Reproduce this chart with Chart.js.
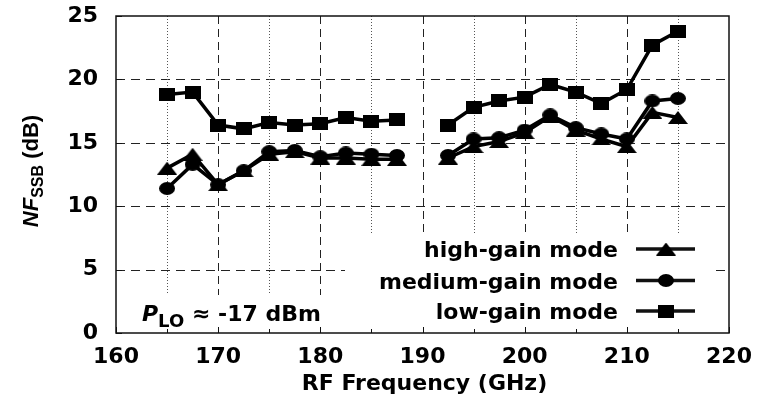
<!DOCTYPE html>
<html>
<head>
<meta charset="utf-8">
<script src="https://cdn.jsdelivr.net/npm/chart.js@4.4.1/dist/chart.umd.min.js"></script>
<style>
  html, body { margin: 0; padding: 0; background: #fff; }
  #wrap { width: 775px; height: 406px; }
</style>
</head>
<body>
<div id="wrap"><canvas id="myChart"></canvas></div>
<script>
// RF frequency (GHz) of each measured point, 190 is the gap between the two bands
const frequencies = [165, 167.5, 170, 172.5, 175, 177.5, 180, 182.5, 185, 187.5, 190,
                     192.5, 195, 197.5, 200, 202.5, 205, 207.5, 210, 212.5, 215];
const highGain   = [13.0, 14.1, 11.7, 12.8, 14.1, 14.3, 13.8, 13.8, 13.7, 13.7, null,
                    13.8, 14.7, 15.1, 15.8, 17.1, 16.0, 15.3, 14.7, 17.4, 17.0];
const mediumGain = [11.4, 13.3, 11.7, 12.8, 14.3, 14.4, 13.9, 14.2, 14.1, 14.0, null,
                    14.0, 15.3, 15.4, 16.0, 17.2, 16.2, 15.7, 15.3, 18.3, 18.5];
const lowGain    = [18.8, 19.0, 16.4, 16.1, 16.6, 16.4, 16.5, 17.0, 16.7, 16.8, null,
                    16.4, 17.8, 18.3, 18.6, 19.6, 19.0, 18.1, 19.2, 22.7, 23.8];
const seriesLabels = ['high-gain mode', 'medium-gain mode', 'low-gain mode'];
const xTicks = [160, 170, 180, 190, 200, 210, 220];
const yTicks = [0, 5, 10, 15, 20, 25];

const FONT = '"DejaVu Sans"';

//marker shapes (a bit wider than tall, like the original figure)
function makeMarker(shape, w, h) {
    const c = document.createElement('canvas');
    c.width = w;
    c.height = h;
    const g = c.getContext('2d');
    g.fillStyle = '#000';
    g.beginPath();
    if (shape === 'triangle') {
        g.moveTo(w / 2, 0);
        g.lineTo(w, h);
        g.lineTo(0, h);
        g.closePath();
    } else if (shape === 'circle') {
        g.ellipse(w / 2, h / 2, w / 2, h / 2, 0, 0, Math.PI * 2);
    } else {
        g.rect(0, 0, w, h);
    }
    g.fill();
    return c;
}
const markers = [makeMarker('triangle', 20, 13), makeMarker('circle', 16, 13), makeMarker('rect', 16, 13)];

function toPoints(values) {
    return frequencies.map((f, i) => ({ x: f, y: values[i] }));
}

function noPadding(s) {
    s.paddingTop = 0;
    s.paddingBottom = 0;
    s.paddingLeft = 0;
    s.paddingRight = 0;
}

//grid, white boxes behind legend and note
const backgroundPlugin = {
    id: 'background',
    beforeDatasetsDraw(chart) {
        const { ctx, chartArea: { left, right, top, bottom }, scales: { x, y } } = chart;
        ctx.save();
        ctx.lineWidth = 1;

        ctx.strokeStyle = '#222';
        ctx.setLineDash([9, 6]);
        yTicks.slice(1, -1).forEach(v => {
            const py = Math.round(y.getPixelForValue(v)) + 0.5;
            ctx.beginPath(); ctx.moveTo(left, py); ctx.lineTo(right, py); ctx.stroke();
        });
        ctx.setLineDash([8, 5]);
        xTicks.slice(1, -1).forEach(v => {
            const px = Math.round(x.getPixelForValue(v)) + 0.5;
            ctx.beginPath(); ctx.moveTo(px, top); ctx.lineTo(px, bottom); ctx.stroke();
        });
        ctx.strokeStyle = '#555';
        ctx.setLineDash([1, 2]);
        xTicks.slice(0, -1).forEach(v => {
            const px = Math.round(x.getPixelForValue(v + 5)) + 0.5;
            ctx.beginPath(); ctx.moveTo(px, top); ctx.lineTo(px, bottom); ctx.stroke();
        });
        ctx.setLineDash([]);

        ctx.fillStyle = '#fff';
        ctx.fillRect(345, 233, 712 - 345, bottom - 233);
        ctx.fillRect(left, 295, 345 - left, bottom - 295);
        ctx.restore();
    },
    afterDatasetsDraw(chart) {
        const { ctx, chartArea: { left, right, top, bottom }, scales: { x, y } } = chart;
        ctx.save();

        //frame and inward ticks
        ctx.strokeStyle = '#111';
        ctx.lineWidth = 1.5;
        ctx.strokeRect(left, top, right - left, bottom - top);
        ctx.lineWidth = 1;
        xTicks.forEach(v => {
            [v, v + 5].forEach((t, k) => {
                if (t > 220) return;
                const px = Math.round(x.getPixelForValue(t)) + 0.5;
                ctx.beginPath(); ctx.moveTo(px, bottom); ctx.lineTo(px, bottom - (k ? 4 : 6)); ctx.stroke();
            });
        });
        yTicks.forEach(v => {
            const py = Math.round(y.getPixelForValue(v)) + 0.5;
            ctx.beginPath(); ctx.moveTo(left, py); ctx.lineTo(left + 6, py); ctx.stroke();
        });

        //legend
        ctx.fillStyle = '#000';
        ctx.font = 'bold 22px ' + FONT;
        ctx.textAlign = 'right';
        ctx.textBaseline = 'alphabetic';
        const rows = [249, 280.5, 311];
        chart.data.datasets.forEach((ds, i) => {
            const cy = rows[i];
            ctx.fillText(ds.label, 618, cy + 8);
            ctx.lineWidth = 3.5;
            ctx.beginPath(); ctx.moveTo(636, cy); ctx.lineTo(695, cy); ctx.stroke();
            const m = ds.pointStyle;
            ctx.drawImage(m, 666 - m.width / 2, cy - m.height / 2);
        });

        //P_LO note
        ctx.textAlign = 'left';
        let nx = 142;
        ctx.font = 'italic bold 22px ' + FONT;
        ctx.fillText('P', nx, 321);
        nx += ctx.measureText('P').width;
        ctx.font = 'bold 18px ' + FONT;
        ctx.fillText('LO', nx, 327);
        nx += ctx.measureText('LO').width;
        ctx.font = 'bold 22px ' + FONT;
        ctx.fillText(' \u2248 -17 dBm', nx, 321);

        //x title
        ctx.textAlign = 'center';
        ctx.fillText('RF Frequency (GHz)', (left + right) / 2 + 2, 390);

        //y title
        const parts = [
            { t: 'NF', f: 'italic bold 22px "Liberation Sans"', dy: 0 },
            { t: 'SSB', f: 'bold 16px "Liberation Sans"', dy: 5 },
            { t: ' (dB)', f: 'bold 22px "Liberation Sans"', dy: 0 }
        ];
        let total = 0;
        parts.forEach(p => { ctx.font = p.f; p.w = ctx.measureText(p.t).width; total += p.w; });
        ctx.translate(38, 171);
        ctx.rotate(-Math.PI / 2);
        ctx.textAlign = 'left';
        let tx = -total / 2;
        parts.forEach(p => { ctx.font = p.f; ctx.fillText(p.t, tx, p.dy); tx += p.w; });
        ctx.restore();
    }
};

const ctx = document.getElementById('myChart').getContext('2d');
const seriesValues = [highGain, mediumGain, lowGain];
const myChart = new Chart(ctx, {
    type: 'line',
    data: {
        datasets: seriesValues.map((vals, i) => ({
            label: seriesLabels[i],
            data: toPoints(vals),
            borderColor: '#000',
            backgroundColor: '#000',
            borderWidth: 3.5,
            pointStyle: markers[i],
            pointRadius: 8,
            pointHoverRadius: 8,
            spanGaps: false,
            tension: 0
        }))
    },
    options: {
        responsive: true,
        maintainAspectRatio: false,
        animation: false,
        events: [],
        layout: { padding: { top: 16, right: 46, left: 0, bottom: 0 } },
        plugins: {
            legend: { display: false },
            tooltip: { enabled: false }
        },
        scales: {
            x: {
                type: 'linear',
                min: 160,
                max: 220,
                grid: { display: false },
                border: { display: false },
                afterBuildTicks: s => { s.ticks = xTicks.map(v => ({ value: v })); },
                afterFit: s => { s.height = 73; noPadding(s); },
                ticks: {
                    padding: 3,
                    color: '#000',
                    maxRotation: 0,
                    font: { family: 'DejaVu Sans', weight: 'bold', size: 22 }
                }
            },
            y: {
                min: 0,
                max: 25,
                grid: { display: false },
                border: { display: false },
                afterBuildTicks: s => { s.ticks = yTicks.map(v => ({ value: v })); },
                afterFit: s => { s.width = 116; noPadding(s); },
                ticks: {
                    padding: 10,
                    color: '#000',
                    font: { family: 'DejaVu Sans', weight: 'bold', size: 22 }
                }
            }
        }
    },
    plugins: [backgroundPlugin]
});
</script>
</body>
</html>
